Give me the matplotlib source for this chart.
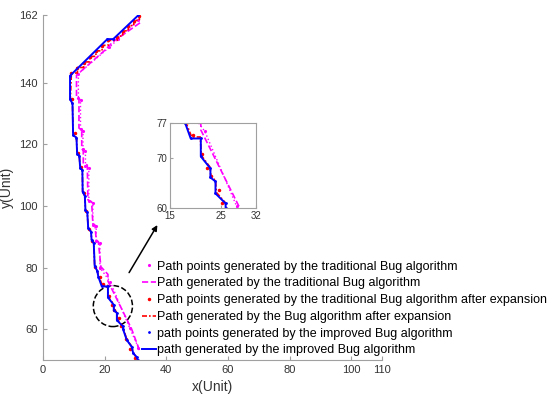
import numpy as np
import matplotlib
matplotlib.use('Agg')
import matplotlib.pyplot as plt
from matplotlib.patches import Ellipse

plt.rcParams['font.family'] = ['Liberation Sans', 'DejaVu Sans']

# improved Bug path (blue)
bx = [31.0, 22.8, 20.9, 8.8, 8.8, 9.6, 9.8, 10.9, 11.1, 11.8, 12.1, 12.8, 12.9, 13.6,
      13.8, 14.4, 14.7, 15.6, 15.8, 16.5, 16.8, 17.6, 18.0, 19.1, 21.1, 21.1, 23.0,
      23.0, 24.0, 24.0, 26.0, 26.0, 27.2, 28.8, 29.3, 30.4, 30.8]
by = [162.0, 154.2, 154.2, 142.3, 134.7, 133.3, 123.0, 122.2, 116.9, 116.4, 112.3, 111.7,
      104.6, 103.3, 98.7, 97.9, 92.8, 91.7, 89.0, 87.9, 80.5, 79.0, 77.0, 73.9, 73.9,
      70.3, 67.9, 66.1, 65.3, 62.9, 60.9, 60.0, 56.5, 54.3, 52.2, 51.0, 50.0]

# Bug path after expansion (red)
rx = [31.3, 31.3, 29.5, 29.5, 27.7, 27.7, 25.9, 25.9, 24.1, 24.1, 21.2, 21.2, 19.2, 19.2,
      17.2, 17.2, 15.2, 15.2, 13.2, 13.2, 11.2, 11.2, 9.2, 9.2, 8.9, 9.6, 9.8, 10.9, 11.1,
      11.8, 12.1, 12.8, 12.9, 13.6, 13.8, 14.4, 14.7, 15.6, 15.8, 16.5, 16.8, 17.6, 18.2,
      19.3, 21.0, 21.2, 22.9, 23.1, 24.0, 24.2, 25.9, 26.1, 27.2, 28.8, 29.3, 30.6]
ry = [162.0, 160.3, 160.3, 158.6, 158.6, 156.9, 156.9, 155.2, 155.2, 153.8, 153.8, 152.2,
      152.2, 150.4, 150.4, 148.6, 148.6, 146.8, 146.8, 145.0, 145.0, 143.2, 143.2, 142.0,
      134.6, 133.3, 123.0, 122.2, 116.9, 116.4, 112.3, 111.7, 104.6, 103.3, 98.7, 97.9,
      92.8, 91.7, 89.0, 87.9, 80.5, 79.0, 77.0, 74.2, 74.2, 70.5, 68.2, 66.3, 65.5, 63.1,
      61.1, 60.2, 56.7, 54.4, 52.3, 50.4]
# red path points
rpx = [31.3, 29.5, 27.7, 25.9, 24.1, 21.2, 19.2, 17.2, 15.2, 13.2, 11.2, 9.1, 9.3, 10.4,
       11.3, 12.2, 13.4, 13.9, 14.8, 15.9, 16.9, 18.6, 19.6, 21.3, 22.3, 23.2, 24.6, 25.3,
       27.0, 28.4, 29.8]
rpy = [161.7, 160.1, 158.4, 156.7, 155.0, 153.9, 152.0, 150.2, 148.4, 146.6, 144.8, 143.3,
       134.6, 123.6, 117.1, 112.8, 104.3, 98.5, 92.6, 88.8, 80.3, 77.1, 74.6, 70.7, 67.9,
       66.3, 63.6, 60.9, 56.8, 53.5, 50.6]

# traditional Bug path (magenta)
mx = [31.5, 22.8, 20.1, 10.9, 10.9, 11.7, 11.7, 12.6, 12.6, 13.1, 13.1, 14.4, 14.6, 15.8,
      16.2, 16.9, 17.3, 18.0, 18.8, 21.1, 21.1, 28.8, 31.5]
my = [159.5, 153.4, 150.6, 142.5, 135.5, 135.0, 125.3, 124.7, 118.8, 117.8, 114.0, 113.3,
      102.0, 101.4, 94.4, 93.8, 89.0, 88.4, 80.3, 77.8, 75.6, 60.0, 52.7]
# traditional Bug path points
pmx = [31.0, 24.5, 21.5, 11.5, 11.5, 12.2, 12.2, 13.0, 13.0, 13.8, 13.8, 14.9, 14.9, 16.2,
       16.2, 17.3, 17.3, 18.5, 18.5, 21.9, 28.2, 31.0]
pmy = [160.5, 154.3, 151.5, 143.0, 135.0, 134.5, 125.0, 124.5, 118.5, 118.0, 113.0, 112.5,
       101.5, 101.0, 94.0, 93.5, 88.5, 88.0, 80.0, 75.3, 60.3, 54.0]

labels = ['Path points generated by the traditional Bug algorithm',
          'Path generated by the traditional Bug algorithm',
          'Path points generated by the traditional Bug algorithm after expansion',
          'Path generated by the Bug algorithm after expansion',
          'path points generated by the improved Bug algorithm',
          'path generated by the improved Bug algorithm']

spine_c = '#a0a0a0'
text_c = '#333333'


def draw(ax):
    ax.plot(pmx, pmy, ':', color='#ff00ff', lw=1.0)
    h1, = ax.plot(pmx, pmy, '.', color='#ff00ff', ms=2.5, label=labels[0])
    h2, = ax.plot(mx, my, '--', color='#ff00ff', lw=1.2, label=labels[1])
    h3, = ax.plot(rpx, rpy, '.', color='#ff0000', ms=3, label=labels[2])
    h4, = ax.plot(rx, ry, color='#ff0000', lw=1.2, ls=(0, (3, 1.2, 1, 1.2)), label=labels[3])
    h5, = ax.plot(bx, by, '.', color='#0000ff', ms=2, label=labels[4])
    h6, = ax.plot(bx, by, '-', color='#0000ff', lw=1.4, label=labels[5])
    return [h1, h2, h3, h4, h5, h6]


fig = plt.figure(figsize=(5.5, 3.98), dpi=100)
ax = fig.add_axes([0.078, 0.0955, 0.6165, 0.8665])
handles = draw(ax)
ax.set_xlim(0, 110)
ax.set_ylim(50, 162)
ax.set_xticks([0, 20, 40, 60, 80, 100, 110])
ax.set_yticks([60, 80, 100, 120, 140, 162])
for s in ['top', 'right']:
    ax.spines[s].set_visible(False)
for s in ['left', 'bottom']:
    ax.spines[s].set_color(spine_c)
ax.tick_params(direction='in', length=3, colors=spine_c, labelcolor=text_c, labelsize=8)
ax.set_xlabel('x(Unit)', fontsize=10, color=text_c, labelpad=4)
ax.set_ylabel('y(Unit)', fontsize=10, color=text_c, labelpad=4)

ax.add_patch(Ellipse((22.7, 67.5), 12.7, 13.3, fill=False, ls='--', lw=1.1, color='black'))
ax.annotate('', xy=(37.6, 94.6), xytext=(27.5, 77.6),
            arrowprops=dict(arrowstyle='-|>', color='black', lw=1.1, mutation_scale=8))

# inset
axi = fig.add_axes([0.309, 0.4774, 0.1564, 0.2136])
draw(axi)
axi.set_xlim(15, 32)
axi.set_ylim(60, 77)
axi.set_xticks([15, 25, 32])
axi.set_yticks([60, 70, 77])
for s in axi.spines.values():
    s.set_color(spine_c)
axi.tick_params(direction='in', length=2, colors=spine_c, labelcolor=text_c, labelsize=7, pad=2)

fig.legend(handles=handles, loc='upper left', bbox_to_anchor=(0.258, 0.345), frameon=False,
           fontsize=9, handlelength=1.1, handletextpad=0.1, labelspacing=0.38,
           borderpad=0, borderaxespad=0)

fig.savefig('out.png', dpi=100)
